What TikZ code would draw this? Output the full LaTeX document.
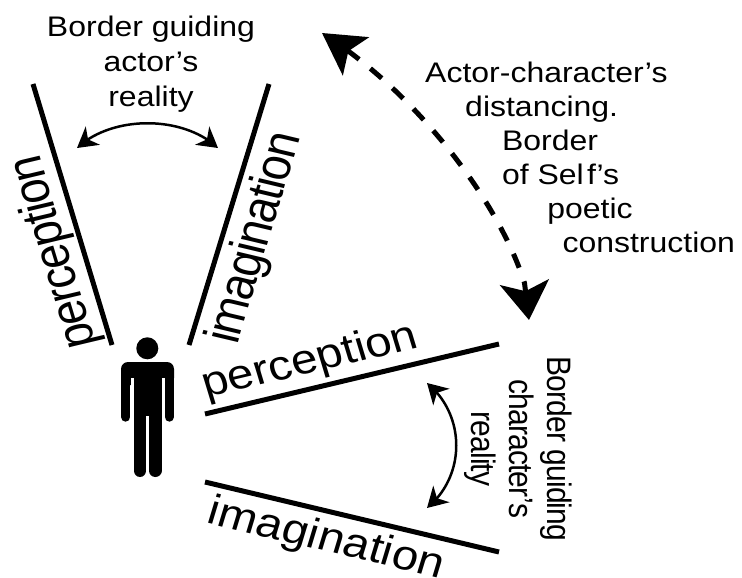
\documentclass[tikz,border=0pt]{standalone}
\usepackage{fontspec}
\setmainfont{Liberation Sans}
\newfontfamily\tightface[LetterSpace=-3]{Liberation Sans}
\usepackage{tikz}
\usetikzlibrary{arrows.meta,bending}
\tikzset{
  border/.style={draw=black,line width=5pt},
  upperlabel/.style={inner sep=0pt,xscale=1.13,font=\tightface\fontsize{45}{45}\selectfont},
  lowerlabel/.style={inner sep=0pt,xscale=1.13,font=\fontsize{42}{42}\selectfont},
  note/.style={inner sep=0pt,xscale=1.13,align=center,font=\fontsize{28.3}{35}\selectfont},
  selfnote/.style={inner sep=0pt,xscale=1.13,align=left,font=\fontsize{28.3}{34}\selectfont},
  sidenote/.style={inner sep=0pt,xscale=1.13,align=center,font=\tightface\fontsize{30}{33.6}\selectfont},
  swing/.style={{Stealth[length=20pt,width=23pt,inset=6pt,flex]}-{Stealth[length=20pt,width=23pt,inset=6pt,flex]},draw=black,line width=2.5pt},
  distancing/.style={{Stealth[length=41pt,width=46pt,inset=9pt,flex]}-{Stealth[length=38pt,width=49pt,inset=9pt,flex]},draw=black,line width=5pt,dash pattern=on 15pt off 14.5pt},
  limb/.style={draw=black,line cap=round},
}
\begin{document}
\begin{tikzpicture}[x=1pt,y=-1pt]
        \useasboundingbox (0,0) rectangle (742,578);
        \coordinate (pl0) at (33,84);
        \coordinate (pl1) at (112,345);
        \coordinate (il0) at (269,84);
        \coordinate (il1) at (189,345);
        \coordinate (pc0) at (205,414);
        \coordinate (pc1) at (499,344);
        \coordinate (ic0) at (205,482);
        \coordinate (ic1) at (499,552);
        \draw[border] (pl0) -- (pl1);
        \draw[border] (il0) -- (il1);
        \draw[border] (pc0) -- (pc1);
        \draw[border] (ic0) -- (ic1);
        \node[upperlabel,rotate=105] (pl) at (55,252) {perception};
        \node[upperlabel,rotate=75] (il) at (256,238) {imagination};
        \node[lowerlabel,rotate=15] (pc) at (310,362) {perception};
        \node[lowerlabel,rotate=-15] (ic) at (326,540) {imagination};
        \node[note] (actor) at (151,64) {Border guiding\\actor’s\\reality};
        \node[selfnote,anchor=north west] (self) at (425,62) {Actor-character’s\\
          \hspace*{35.4pt}distancing.\\
          \hspace*{68pt}Border\\
          \hspace*{68pt}of Sel\kern3pt f’s\\
          \hspace*{108pt}poetic\\
          \hspace*{121.5pt}construction};
        \node[sidenote,rotate=-90] (character) at (518,449) {Border guiding\\character’s\\reality};
        \coordinate (a0) at (77,148);
        \coordinate (a1) at (218,148);
        \coordinate (c0) at (427,383);
        \coordinate (c1) at (427,508);
        \coordinate (d0) at (322,33);
        \coordinate (d1) at (529,320);
        \coordinate (d2) at (524.5,283);
        \draw[swing] (a0) .. controls (112,115) and (183,115) .. (a1);
        \draw[swing] (c0) .. controls (466,415) and (466,476) .. (c1);
        \draw[distancing] (d0) .. controls (420,95) and (500,205) .. (d2) -- (d1);
        \fill (147.3,348.3) circle (11);
        \fill[rounded corners=7] (121,385) -- (121,362) -- (174,362) -- (174,385) -- cycle;
        \fill[white] (130.5,378) rectangle (133.5,390);
        \fill[white] (161.5,378) rectangle (164.5,390);
        \fill (133.5,365) rectangle (161.5,416);
        \draw[limb,line width=9.4pt] (125.7,375) -- (125.7,417);
        \draw[limb,line width=9.4pt] (169.3,375) -- (169.3,417);
        \draw[limb,line width=12.6pt] (140,410) -- (140,470.7);
        \draw[limb,line width=12.6pt] (155.2,410) -- (155.2,470.7);
      \end{tikzpicture}
\end{document}
